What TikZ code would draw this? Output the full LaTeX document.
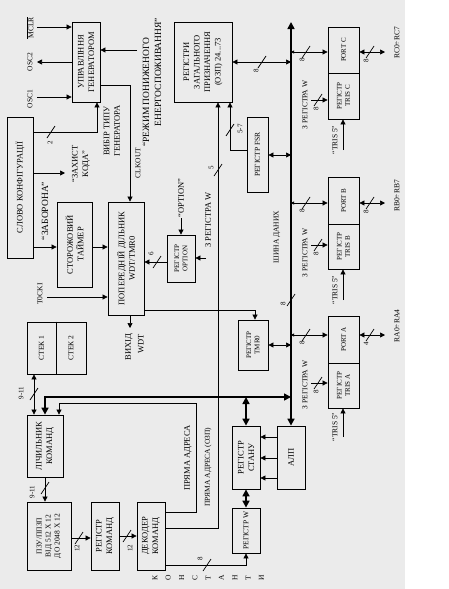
\documentclass[tikz,border=0pt]{standalone}
\usepackage{fontspec}
\setmainfont{Liberation Serif}
\usetikzlibrary{arrows.meta}
\newcommand\slm[2]{\draw[ln] ({#1-4},{#2+6}) -- ({#1+4},{#2-6});}
\newcommand\bx[7][rot]{\node[box,minimum width={#5-#3},minimum height={#6-#4}] (#2) at ({(#3+#5)/2},{(#4+#6)/2}) {};
  \node[#1] (#2t) at (#2) {#7};}
\begin{document}
\begin{tikzpicture}[x=1pt,y=-1pt,
  box/.style={draw,line width=0.8pt,inner sep=0pt},
  rot/.style={rotate=90,align=center,inner sep=0pt,font=\fontsize{8.5}{10.5}\selectfont},
  rotl/.style={rotate=90,align=center,inner sep=0pt,font=\fontsize{9.5}{11}\selectfont},
  rots/.style={rotate=90,align=center,inner sep=0pt,font=\fontsize{7.5}{9}\selectfont},
  rotxs/.style={rotate=90,align=center,inner sep=0pt,font=\fontsize{7}{8.2}\selectfont},
  ln/.style={line width=0.7pt},
  arr/.style={ln,-{Triangle[length=5pt,width=5pt]}},
  darr/.style={ln,{Triangle[length=5pt,width=5pt]}-{Triangle[length=5pt,width=5pt]}},
  parr/.style={ln,{Triangle[length=3pt,width=3pt]}-{Triangle[length=5pt,width=5pt]}},
  bdarr/.style={line width=1.6pt,{Triangle[length=7pt,width=7pt]}-{Triangle[length=7pt,width=7pt]}},
]
\useasboundingbox (0,0) rectangle (449,589);
\fill[black!8] (0,0) rectangle (405,589);

% boxes
\bx{upr}{72}{22}{100}{102}{УПРАВЛІННЯ\\ГЕНЕРАТОРОМ}
\bx{rzp}{174}{22}{232}{102}{РЕГІСТРИ\\ЗАГАЛЬНОГО\\ПРИЗНАЧЕННЯ\\(ОЗП) 24...73}
\bx[rots]{fsr}{247}{117}{268}{192}{РЕГІСТР FSR}
\bx[rotxs]{portc}{328}{27}{359}{73}{PORT C}
\bx[rotxs]{trisc}{328}{73}{359}{119}{РЕГІСТР\\TRIS C}
\bx[rotxs]{portb}{328}{177}{359}{224}{PORT B}
\bx[rotxs]{trisb}{328}{224}{359}{269}{РЕГІСТР\\TRIS B}
\bx[rotxs]{porta}{328}{316}{359}{363}{PORT A}
\bx[rotxs]{trisa}{328}{363}{359}{408}{РЕГІСТР\\TRIS A}
\bx{cfg}{7}{117}{33}{258}{СЛОВО КОНФІГУРАЦІЇ}
\bx{wdt}{57}{202}{92}{287}{СТОРОЖОВИЙ\\ТАЙМЕР}
\bx{pre}{108}{202}{144}{315}{ПОПЕРЕДНІЙ ДІЛЬНИК\\WDT/TMR0}
\bx[rotxs]{opt}{167}{235}{195}{282}{РЕГІСТР\\OPTION}
\bx[rotxs]{tmr}{238}{320}{268}{370}{РЕГІСТР\\TMR0}
\bx[rots]{st1}{27}{322}{56}{374}{СТЕК 1}
\bx[rots]{st2}{56}{322}{86}{374}{СТЕК 2}
\draw[line width=1.6pt] (st1.north east) -- (st1.south east);
\bx{pc}{27}{415}{63}{477}{ЛІЧИЛЬНИК\\КОМАНД}
\bx[rots]{rom}{27}{502}{71}{570}{ПЗУ/ППЗП\\ВІД 512 Х 12\\ДО 2048 Х 12}
\bx{ir}{91}{502}{119}{570}{РЕГІСТР\\КОМАНД}
\bx{dec}{137}{502}{165}{570}{ДЕКОДЕР\\КОМАНД}
\bx{stat}{232}{426}{260}{489}{РЕГІСТР\\СТАНУ}
\bx{alu}{277}{426}{305}{489}{АЛП}
\bx[rots]{wreg}{232}{508}{260}{553}{РЕГІСТР W}

% generator area
\node[rots] (lmclr) at (30,28) {$\overline{\hbox{MCLR}}$};
\node[rots] (losc2) at (30,62) {OSC2};
\node[rots] (losc1) at (30,99) {OSC1};
\draw[arr] (37,27) -- (upr.west |- 0,27);
\draw[arr] (upr.west |- 0,62) -- (37,62);
\draw[arr] (37,97) -- (upr.west |- 0,97);
\draw[arr] (137,50) -- (upr.east |- 0,50);
\node[rotl] (lpd1) at (146,92) {“РЕЖИМ ПОНИЖЕНОГО};
\node[rotl] (lpd2) at (158,72) {ЕНЕРГОСПОЖИВАННЯ”};
\draw[arr] (upr.east |- 0,85) -| (pre.north -| 130,0);
\node[rots] (lclk) at (138,163) {CLKOUT};
\node[rot] (lsel) at (112,131) {ВИБІР ТИПУ\\ГЕНЕРАТОРА};
\draw[arr] (cfg.east |- 0,132) -| (upr.south -| 97,0);
\slm{51}{132}
\node[rotxs] (l2) at (50,143) {2};
\draw[arr] (cfg.east |- 0,173) -- (65,173);
\node[rot] (lzk) at (81,164) {“ЗАХИСТ\\КОДА”};
\draw[arr] (cfg.east |- 0,247) -- (wdt.west |- 0,247);
\node[rotl] (lzb) at (45,211) {“ЗАБОРОНА”};
\draw[arr] (wdt.east |- 0,247) -- (pre.west |- 0,247);
\node[rots] (ltck) at (40,294) {T0CKI};
\draw[arr] (47,297) -- (pre.west |- 0,297);
\draw[arr] (pre.south -| 130,0) -- (130,328);
\node[rot] (lvy) at (129,347) {ВИХІД};
\node[rot] (lwdt) at (141,344) {WDT};
\draw[arr] (opt.west |- 0,262) -- (pre.east |- 0,262);
\slm{157}{262}
\node[rotxs] (l6) at (151,254) {6};
\draw[arr] (181,218) -- (opt.north -| 181,0);
\node[rot] (lopt) at (181,198) {“OPTION”};
\draw[arr] (206,258) -- (opt.east |- 0,258);
\node[rot] (lw1) at (208,220) {З РЕГІСТРА W};
\draw[arr] (pre.east |- 0,310) -| (tmr.north -| 255,0);
\draw[darr] (tmr.east |- 0,345) -- (291,345);

% data bus
\coordinate (bustop) at (291,22);
\draw[bdarr] (bustop) -- (alu.north);
\node[rots] (lbus) at (277,237) {ШИНА ДАНИХ};
\slm{291}{300}
\node[rotxs] (l8b) at (283,304) {8};

% register file & FSR
\draw[darr] (rzp.east |- 0,62) -- (291,62);
\slm{262}{62}
\node[rotxs] (l8r) at (256,71) {8};
\draw[darr] (fsr.east |- 0,155) -- (291,155);
\draw[arr] (fsr.west |- 0,150) -| (rzp.south -| 230,0);
\slm{230}{130}
\node[rotxs] (l57) at (240,129) {5-7};
\draw[arr] (dec.east |- 0,528) -| (rzp.south -| 218,0);
\slm{218}{170}
\node[rotxs] (l5) at (211,168) {5};
\node[rots] (lpa2) at (208,467) {ПРЯМА АДРЕСА (ОЗП)};
\draw[arr] (dec.east |- 0,512) -- (196,512) -- (196,403) -| (pc.north -| 59,0);
\node[rot] (lpa1) at (188,458) {ПРЯМА АДРЕСА};
\draw[bdarr] (291,397) -| (pc.north -| 45,0);
\draw[bdarr] (246,397) -- (stat.north);

% ALU, status, W
\draw[arr] (alu.west |- 0,437) -- (stat.east |- 0,437);
\draw[arr] (alu.west |- 0,458) -- (stat.east |- 0,458);
\draw[arr] (alu.west |- 0,478) -- (stat.east |- 0,478);
\draw[bdarr] (stat.south) -- (wreg.north);
\draw[arr] (dec.east |- 0,565) -| (wreg.south);
\slm{207}{565}
\node[rotxs] (l8k) at (200,559) {8};
\foreach \c [count=\i] in {К,О,Н,С,Т,А,Н,Т,И}
  \node[rots] (k\i) at ({155+13.3*(\i-1)},578) {\c};

% program side
\draw[darr] (st1.south -| 34,0) -- (pc.north -| 34,0);
\slm{34}{394}
\node[rotxs] (l911a) at (21,393) {9-11};
\draw[arr] (pc.south -| 45,0) -- (rom.north -| 45,0);
\slm{45}{488}
\node[rotxs] (l911b) at (32,492) {9-11};
\draw[arr] (rom.east |- 0,538) -- (ir.west |- 0,538);
\slm{79}{538}
\node[rotxs] (l12a) at (77,548) {12};
\draw[arr] (ir.east |- 0,536) -- (dec.west |- 0,536);
\slm{127}{536}
\node[rotxs] (l12b) at (130,548) {12};

% ports
\foreach \p/\yp/\yt/\yb/\yw/\out/\oy/\nb in {c/52/100/150/105/RC0÷RC7/43/8, b/203/245/300/253/RB0÷RB7/196/8, a/335/383/437/385/RA0÷RA4/326/4}{
  \draw[parr] (291,\yp) -- (port\p.west |- 0,\yp);
  \slm{306}{\yp}
  \node[rotxs] (l8p\p) at (302,\yp+8) {8};
  \draw[arr] (311,\yt) -- (tris\p.west |- 0,\yt);
  \slm{318}{\yt}
  \node[rotxs] (l8t\p) at (316,\yt+9) {8};
  \node[rots] (lw\p) at (305,\yw) {З РЕГІСТРА W};
  \draw[arr] (343,\yb) -- (tris\p.south -| 343,0);
  \node[rots] (ltr\p) at (335,\yb-10) {“TRIS 5”};
  \draw[darr] (port\p.east |- 0,\yp) -- (385,\yp);
  \slm{370}{\yp}
  \node[rotxs] (lnb\p) at (366,\yp+9) {\nb};
  \node[rots] (lo\p) at (397,\oy) {\out};
}
\end{tikzpicture}
\end{document}
